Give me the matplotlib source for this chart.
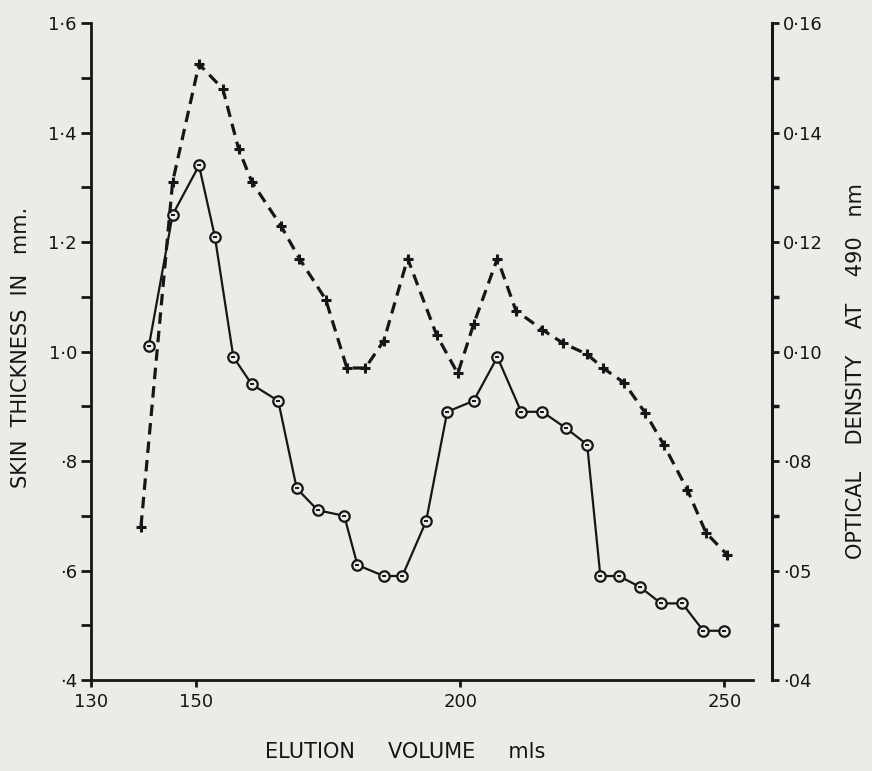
import matplotlib
matplotlib.use("Agg")
import matplotlib.pyplot as plt
from matplotlib.ticker import FixedLocator

# -------------------------
# Data
# -------------------------

# skin thickness (solid line, open circles), left axis
thick_vol = [141.0, 145.5, 150.5, 153.5, 157.0, 160.5, 165.5, 169.0, 173.0, 178.0,
             180.5, 185.5, 189.0, 193.5, 197.5, 202.5, 207.0, 211.5, 215.5, 220.0,
             224.0, 226.5, 230.0, 234.0, 238.0, 242.0, 246.0, 250.0]
thick_mm = [1.01, 1.25, 1.34, 1.21, 0.99, 0.94, 0.91, 0.75, 0.71, 0.70,
            0.61, 0.59, 0.59, 0.69, 0.89, 0.91, 0.99, 0.89, 0.89, 0.86,
            0.83, 0.59, 0.59, 0.57, 0.54, 0.54, 0.49, 0.49]

# optical density (dashed line, crosses), right axis
od_vol = [139.5, 145.5, 150.5, 155.0, 158.0, 160.5, 166.0, 169.5, 174.5, 178.5,
          182.0, 185.5, 190.0, 195.5, 199.5, 202.5, 207.0, 210.5, 215.5, 219.5,
          224.0, 227.0, 231.0, 235.0, 238.5, 243.0, 246.5, 250.5]
od_490 = [0.068, 0.131, 0.1525, 0.148, 0.137, 0.131, 0.123, 0.117, 0.1095, 0.097,
          0.097, 0.102, 0.117, 0.103, 0.096, 0.105, 0.117, 0.1075, 0.104, 0.1015,
          0.0995, 0.097, 0.0943, 0.0888, 0.083, 0.0747, 0.0669, 0.0629]

x_ticks = [130, 150, 200, 250]
left_ticks = [0.4, 0.6, 0.8, 1.0, 1.2, 1.4, 1.6]
left_labels = ["·4", "·6", "·8", "1·0", "1·2", "1·4", "1·6"]
left_minor = [0.5, 0.7, 0.9, 1.1, 1.3, 1.5]
right_ticks = [0.04, 0.06, 0.08, 0.10, 0.12, 0.14, 0.16]
right_labels = ["·04", "·05", "·08", "0·10", "0·12", "0·14", "0·16"]
right_minor = [0.05, 0.07, 0.09, 0.11, 0.13, 0.15]

# -------------------------
# Plot
# -------------------------

INK = "#161616"
PAPER = "#ecebe8"
plt.rcParams["font.family"] = "DejaVu Sans"

fig = plt.figure(figsize=(8.72, 7.71), dpi=100, facecolor=PAPER)
ax = fig.add_axes([0.1041, 0.118, 0.7812, 0.852])
ax.set_facecolor("none")
ax2 = ax.twinx()
ax2.set_facecolor("none")

ax.plot(thick_vol, thick_mm, color=INK, lw=1.6, marker="o", ms=7.5,
        mfc=PAPER, mec=INK, mew=1.6, zorder=3)
ax.plot(thick_vol, thick_mm, ls="none", marker="_", ms=3.5, mec=INK, mew=1.4, zorder=4)

ax2.plot(od_vol, od_490, color=INK, lw=2.3, ls=(0, (3.6, 2.2)), marker="+",
         ms=7, mew=2.2, zorder=3)

ax.set_xlim(130, 259)
ax.set_ylim(0.4, 1.6)
ax2.set_ylim(0.04, 0.16)

ax.xaxis.set_major_locator(FixedLocator(x_ticks))
ax.set_xticklabels([str(t) for t in x_ticks])
ax.yaxis.set_major_locator(FixedLocator(left_ticks))
ax.yaxis.set_minor_locator(FixedLocator(left_minor))
ax.set_yticklabels(left_labels)
ax2.yaxis.set_major_locator(FixedLocator(right_ticks))
ax2.yaxis.set_minor_locator(FixedLocator(right_minor))
ax2.set_yticklabels(right_labels)

for s in ["top", "right"]:
    ax.spines[s].set_visible(False)
for s in ["top", "left", "bottom"]:
    ax2.spines[s].set_visible(False)
ax.spines["left"].set_linewidth(2.0)
ax.spines["bottom"].set_linewidth(2.0)
ax.spines["bottom"].set_bounds(130, 255.5)
ax2.spines["right"].set_linewidth(2.2)
for sp in [ax.spines["left"], ax.spines["bottom"], ax2.spines["right"]]:
    sp.set_color(INK)

ax.tick_params(axis="y", which="major", direction="out", length=7, width=2,
               labelsize=13, pad=3, colors=INK)
ax.tick_params(axis="y", which="minor", direction="out", length=7, width=2, colors=INK)
ax.tick_params(axis="x", direction="out", length=5, width=2, labelsize=13,
               pad=4, colors=INK)
ax2.tick_params(axis="y", which="major", direction="out", length=5, width=2,
                labelsize=13, pad=3, colors=INK)
ax2.tick_params(axis="y", which="minor", direction="out", length=5, width=2.5, colors=INK)

fig.text(21 / 872, 1 - 347 / 771, "SKIN  THICKNESS  IN   mm.", rotation=90,
         ha="center", va="center", fontsize=15, color=INK)
fig.text(856 / 872, 1 - 371 / 771, "OPTICAL    DENSITY    AT    490   nm", rotation=90,
         ha="center", va="center", fontsize=15, color=INK)
fig.text(405 / 872, 1 - 752 / 771, "ELUTION     VOLUME     mls",
         ha="center", va="center", fontsize=15, color=INK)

plt.savefig("out.png", dpi=100, facecolor=PAPER)
